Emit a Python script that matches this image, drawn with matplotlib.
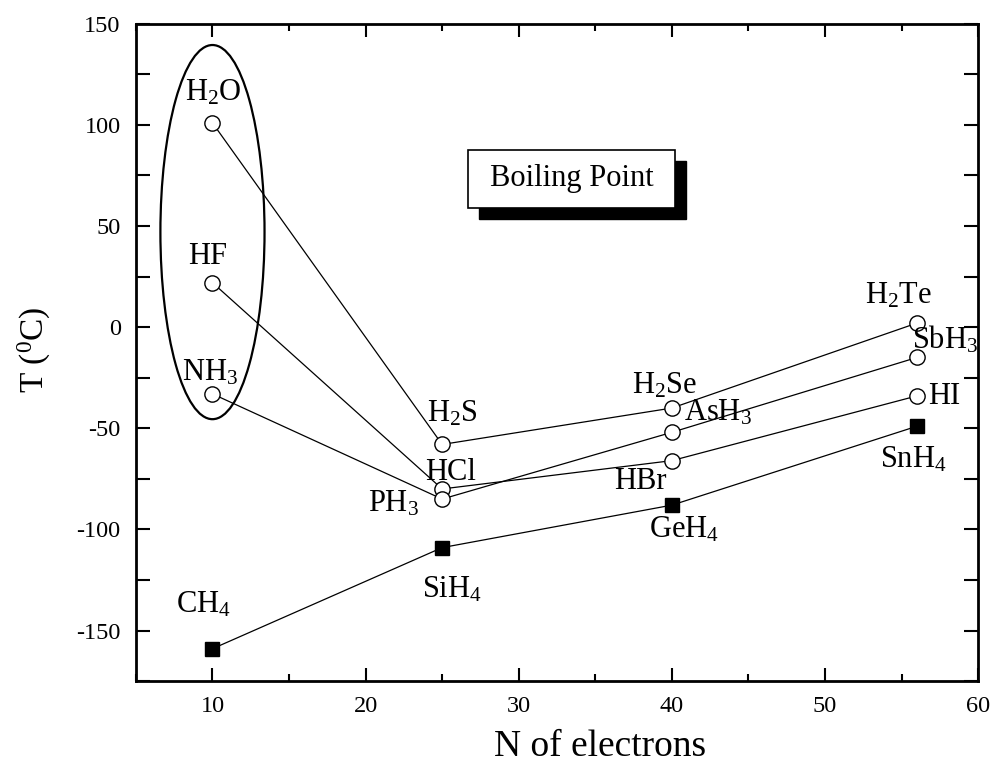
import numpy as np
import matplotlib.pyplot as plt
from matplotlib.patches import Ellipse, Rectangle

plt.rcParams['font.family'] = ['Liberation Serif', 'DejaVu Serif']
plt.rcParams['mathtext.fontset'] = 'custom'
plt.rcParams['mathtext.rm'] = 'Liberation Serif'
plt.rcParams['mathtext.it'] = 'Liberation Serif:italic'
plt.rcParams['mathtext.bf'] = 'Liberation Serif:bold'
plt.rcParams['axes.unicode_minus'] = False

# number of electrons for each row of the periodic table
electrons = [10, 25, 40, 56]

# boiling points (deg C)
group16 = [101, -58, -40, 2]        # H2O, H2S, H2Se, H2Te
group17 = [22, -80, -66, -34]       # HF, HCl, HBr, HI
group15 = [-33, -85, -52, -15]      # NH3, PH3, AsH3, SbH3
group14 = [-159, -109, -88, -49]    # CH4, SiH4, GeH4, SnH4

names16 = [r'H$_2$O', r'H$_2$S', r'H$_2$Se', r'H$_2$Te']
names17 = ['HF', 'HCl', 'HBr', 'HI']
names15 = [r'NH$_3$', r'PH$_3$', r'AsH$_3$', r'SbH$_3$']
names14 = [r'CH$_4$', r'SiH$_4$', r'GeH$_4$', r'SnH$_4$']

# label offsets from the point (pixels, x right / y up)
off16 = [(-27, 22), (-15, 23), (-40, 15), (-52, 20)]
off17 = [(-24, 19), (-17, 9), (-58, -28), (11, -8)]
off15 = [(-30, 13), (-74, -12), (12, 12), (-5, 9)]
off14 = [(-36, 36), (-20, -50), (-23, -32), (-37, -41)]

fig = plt.figure(figsize=(9.92, 7.67), dpi=100)
ax = fig.add_axes([0.137, 0.112, 0.849, 0.857])

for vals in [group16, group17, group15]:
    ax.plot(electrons, vals, '-o', color='black', lw=0.9, ms=11,
            mfc='white', mec='black', mew=1.0, zorder=3)
ax.plot(electrons, group14, '-s', color='black', lw=0.9, ms=10,
        mfc='black', mec='black', zorder=3)

for names, vals, offs in [(names16, group16, off16), (names17, group17, off17),
                          (names15, group15, off15), (names14, group14, off14)]:
    for n, x, y, o in zip(names, electrons, vals, offs):
        ax.annotate(n, (x, y), xytext=o, textcoords='offset pixels',
                    ha='left', va='baseline', fontsize=22, zorder=4)

# ellipse around the hydrogen-bonded compounds
ax.add_patch(Ellipse((10, 47), 6.8, 185, fill=False, lw=1.6, color='black', zorder=2))

# "Boiling Point" box with shadow
bx, by, bw, bh = 0.394, 0.720, 0.246, 0.088
ax.add_patch(Rectangle((bx + 0.013, by - 0.017), bw, bh, transform=ax.transAxes,
                       facecolor='black', edgecolor='black', zorder=5))
ax.add_patch(Rectangle((bx, by), bw, bh, transform=ax.transAxes,
                       facecolor='white', edgecolor='black', lw=1.2, zorder=6))
ax.text(bx + bw / 2, by + bh / 2, 'Boiling Point', transform=ax.transAxes,
        ha='center', va='center', fontsize=22, zorder=7)

ax.set_xlim(5, 60)
ax.set_ylim(-175, 150)
ax.set_xticks([10, 20, 30, 40, 50, 60])
ax.set_xticks([5, 15, 25, 35, 45, 55], minor=True)
ax.set_yticks([-150, -100, -50, 0, 50, 100, 150])
ax.set_yticks([-175, -125, -75, -25, 25, 75, 125], minor=True)

ax.tick_params(which='both', direction='in', top=True, right=True, width=1.5,
               labelsize=17.5, pad=11)
ax.tick_params(axis='x', which='major', length=9.5)
ax.tick_params(axis='x', which='minor', length=5)
ax.tick_params(axis='y', which='both', length=10)
for s in ax.spines.values():
    s.set_linewidth(2)

ax.set_xlabel('N of electrons', fontsize=27)
ax.set_ylabel(r'T ($^0$C)', fontsize=24)
ax.xaxis.set_label_coords(0.551, -0.074)
ax.yaxis.set_label_coords(-0.099, 0.504)

fig.savefig('out.png', dpi=100)
